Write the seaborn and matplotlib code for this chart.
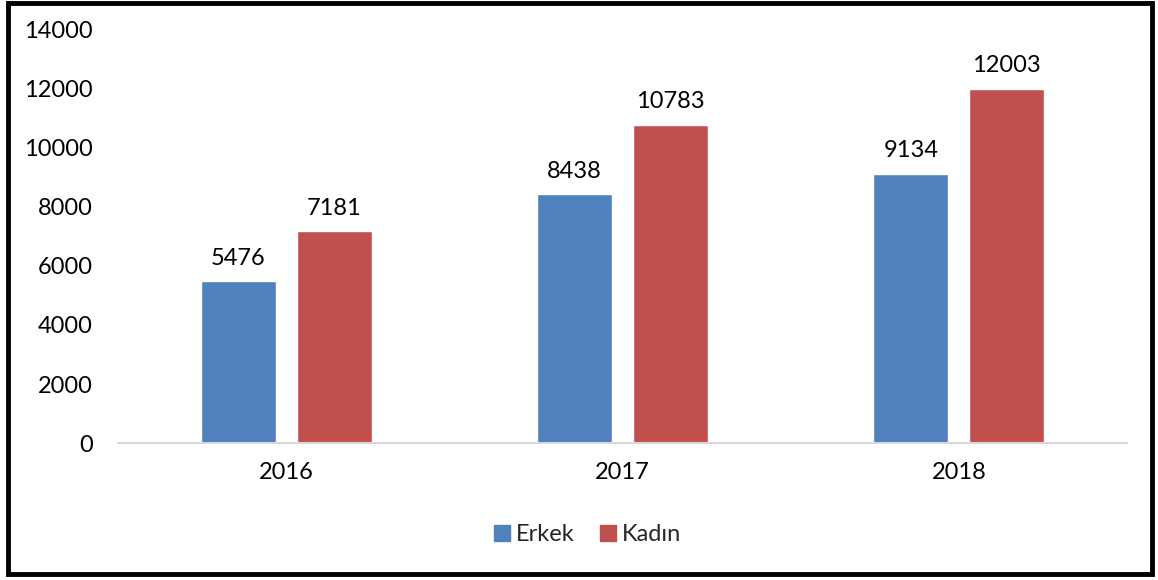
import matplotlib
matplotlib.use('Agg')
import matplotlib.pyplot as plt
from matplotlib.patches import Rectangle
import seaborn as sns
import pandas as pd

years = ["2016", "2017", "2018"]
erkek = [5476, 8438, 9134]
kadin = [7181, 10783, 12003]
series_names = ["Erkek", "Kadın"]
colors = ["#4F81BD", "#C0504D"]
y_ticks = [0, 2000, 4000, 6000, 8000, 10000, 12000, 14000]

df = pd.DataFrame({
    "year": years * 2,
    "value": erkek + kadin,
    "sex": [series_names[0]] * len(years) + [series_names[1]] * len(years),
})

sns.set_style("white")
plt.rcParams['font.family'] = ['Lato', 'DejaVu Sans']

fig = plt.figure(figsize=(11.58, 5.8), dpi=100)
ax = fig.add_axes([0.1019, 0.2362, 0.8713, 0.7121])

sns.barplot(data=df, x="year", y="value", hue="sex", palette=colors,
            width=0.571, gap=0.219, saturation=1, ax=ax, legend=False)

for container in ax.containers:
    ax.bar_label(container, fmt="%d", padding=9, fontsize=17, color="#000000")

ax.set_ylim(0, 14000)
ax.set_yticks(y_ticks)
ax.set_xlabel("")
ax.set_ylabel("")
ax.tick_params(axis="both", length=0, labelsize=17, colors="#000000")
ax.tick_params(axis="y", pad=18)
ax.tick_params(axis="x", pad=14)
for side in ["top", "right", "left"]:
    ax.spines[side].set_visible(False)
ax.spines["bottom"].set_color("#D9D9D9")
ax.spines["bottom"].set_linewidth(1.5)

handles = [plt.Line2D([], [], marker="s", linestyle="", markersize=11,
                      markerfacecolor=c, markeredgecolor=c) for c in colors]
fig.legend(handles, series_names, loc="center", bbox_to_anchor=(0.506, 0.078),
           ncol=2, frameon=False, fontsize=17, handletextpad=0.1,
           columnspacing=0.9, handlelength=1.0)

# black border round the whole chart
fig.patches.append(Rectangle((8 / 1158, 6 / 580), 1144 / 1158, 571 / 580,
                             transform=fig.transFigure, fill=False,
                             edgecolor="black", linewidth=3.5))

fig.savefig("out.png", dpi=100)
